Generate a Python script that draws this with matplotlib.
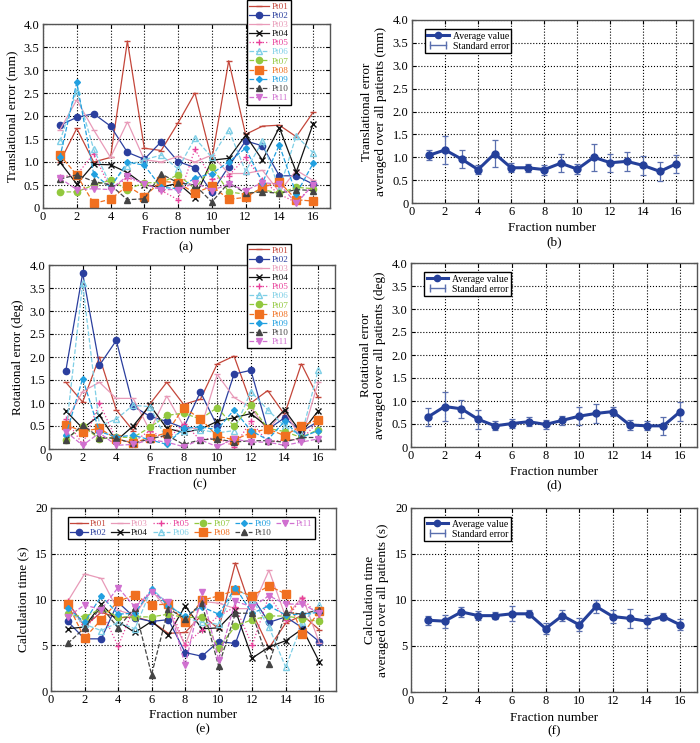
import matplotlib
matplotlib.use("Agg")
import matplotlib.pyplot as plt
from matplotlib.ticker import FuncFormatter, MultipleLocator
from matplotlib.lines import Line2D
from matplotlib.legend_handler import HandlerLine2D

plt.rcParams["font.family"] = ["Liberation Serif", "DejaVu Serif"]

fractions = list(range(1, 17))
patients = ["Pt01", "Pt02", "Pt03", "Pt04", "Pt05", "Pt06", "Pt07", "Pt08", "Pt09", "Pt10", "Pt11"]

# translational error per patient (mm)
trans_err = [
    [1.00, 1.73, 1.00, 1.10, 3.63, 1.30, 1.25, 1.85, 2.50, 1.05, 3.20, 1.60, 1.78, 1.80, 1.55, 2.08],
    [1.80, 1.97, 2.05, 1.78, 1.21, 1.06, 1.44, 1.01, 0.88, 0.34, 0.90, 1.46, 1.35, 0.70, 0.70, 0.52],
    [1.70, 2.35, 1.70, 1.10, 1.87, 1.05, 1.00, 1.12, 1.00, 1.15, 0.75, 0.75, 0.82, 0.35, 0.82, 0.60],
    [1.00, 0.52, 0.95, 0.94, 0.77, 0.50, 0.45, 0.54, 0.22, 1.04, 1.08, 1.58, 1.04, 1.75, 0.78, 1.83],
    [0.68, 0.72, 1.18, 0.42, 0.65, 0.55, 0.38, 0.18, 1.28, 0.62, 0.70, 1.10, 0.60, 0.30, 0.12, 0.50],
    [1.45, 2.55, 1.28, 0.50, 0.92, 1.05, 1.15, 0.85, 1.52, 1.10, 1.70, 0.80, 1.45, 0.40, 1.57, 1.20],
    [0.35, 0.35, 0.50, 0.60, 0.40, 0.55, 0.55, 0.72, 0.42, 0.90, 0.35, 0.30, 0.40, 0.32, 0.45, 0.42],
    [1.15, 0.72, 0.10, 0.19, 0.48, 0.25, 0.58, 0.55, 0.32, 0.48, 0.19, 0.23, 0.45, 0.57, 0.18, 0.15],
    [1.10, 2.73, 0.74, 0.45, 1.00, 0.93, 0.45, 0.42, 0.65, 0.75, 1.00, 1.30, 0.55, 1.37, 0.30, 0.97],
    [0.63, 0.72, 0.58, 0.50, 0.18, 0.20, 0.74, 0.55, 0.50, 0.13, 0.55, 0.32, 0.35, 0.32, 0.40, 0.38],
    [0.65, 0.40, 0.42, 0.40, 0.70, 0.52, 0.40, 0.40, 0.55, 0.38, 0.52, 0.38, 0.55, 0.52, 0.10, 0.50],
]
trans_mean = [1.04, 1.16, 0.96, 0.73, 1.08, 0.77, 0.77, 0.73, 0.87, 0.74, 1.00, 0.88, 0.91, 0.82, 0.69, 0.86]
trans_se = [0.11, 0.30, 0.20, 0.10, 0.30, 0.10, 0.09, 0.11, 0.20, 0.11, 0.30, 0.20, 0.21, 0.20, 0.20, 0.20]

# rotational error per patient (deg)
rot_err = [
    [1.45, 1.02, 2.00, 0.85, 0.40, 0.98, 1.45, 0.97, 1.08, 1.85, 2.02, 1.00, 1.27, 0.75, 1.85, 1.12],
    [1.70, 3.82, 1.82, 2.36, 0.93, 0.71, 0.60, 0.46, 1.24, 0.50, 1.63, 1.71, 0.42, 0.68, 0.38, 0.60],
    [0.60, 1.25, 1.45, 1.10, 1.10, 0.40, 1.15, 0.50, 0.42, 1.62, 1.12, 0.90, 0.40, 0.85, 0.20, 1.45],
    [0.83, 0.45, 0.73, 0.18, 0.50, 0.95, 0.45, 0.36, 0.43, 0.60, 0.68, 0.77, 0.48, 0.85, 0.35, 0.83],
    [0.65, 0.10, 1.00, 0.20, 0.15, 0.40, 0.20, 0.55, 0.20, 0.25, 0.05, 0.60, 0.15, 0.20, 0.20, 0.60],
    [0.35, 3.60, 0.50, 0.65, 0.95, 0.92, 0.20, 0.40, 0.42, 0.35, 0.40, 1.25, 0.85, 0.50, 0.28, 1.72],
    [0.20, 0.50, 0.22, 0.26, 0.25, 0.47, 0.73, 0.78, 0.65, 0.90, 0.49, 0.95, 0.45, 0.38, 0.25, 0.42],
    [0.53, 0.38, 0.45, 0.22, 0.13, 0.25, 0.35, 0.90, 0.66, 0.28, 0.20, 0.35, 0.44, 0.29, 0.50, 0.64],
    [0.30, 1.53, 0.38, 0.26, 0.30, 0.20, 0.10, 0.45, 0.48, 0.42, 0.85, 0.40, 0.20, 0.60, 0.25, 0.40],
    [0.20, 0.52, 0.25, 0.23, 0.12, 0.22, 0.30, 0.10, 0.20, 0.22, 0.15, 0.18, 0.18, 0.15, 0.25, 0.25],
    [0.38, 0.08, 0.35, 0.08, 0.10, 0.20, 0.15, 0.05, 0.20, 0.05, 0.22, 0.15, 0.15, 0.08, 0.15, 0.22],
]
rot_mean = [0.65, 0.88, 0.83, 0.60, 0.46, 0.51, 0.55, 0.49, 0.58, 0.67, 0.73, 0.77, 0.48, 0.46, 0.46, 0.77]
rot_se = [0.20, 0.31, 0.20, 0.20, 0.10, 0.10, 0.10, 0.10, 0.10, 0.20, 0.20, 0.10, 0.10, 0.10, 0.20, 0.20]

# calculation time per patient (s)
calc_time = [
    [9.7, 7.1, 8.6, 8.0, 8.1, 7.6, 6.3, 6.4, 8.3, 6.8, 14.0, 8.6, 4.7, 7.4, 8.3, 6.7],
    [7.6, 5.7, 5.7, 9.7, 8.0, 7.6, 7.8, 4.2, 3.8, 5.4, 5.2, 10.3, 7.5, 8.1, 6.9, 5.4],
    [9.8, 12.8, 12.3, 8.8, 8.3, 11.0, 8.8, 5.0, 9.8, 9.6, 9.0, 9.0, 13.2, 8.1, 10.3, 5.3],
    [6.8, 7.0, 9.5, 7.6, 6.4, 7.6, 6.1, 9.3, 6.8, 6.9, 8.8, 3.6, 4.8, 5.5, 6.8, 3.2],
    [9.8, 6.8, 8.8, 4.9, 9.3, 10.9, 9.6, 5.0, 6.7, 8.2, 9.2, 5.0, 10.4, 7.8, 10.2, 8.0],
    [8.8, 7.3, 6.6, 7.5, 6.8, 11.2, 9.5, 8.0, 7.5, 7.3, 11.3, 10.0, 7.0, 2.6, 7.5, 9.4],
    [8.4, 8.1, 9.0, 8.1, 8.1, 8.1, 8.4, 8.0, 8.1, 4.7, 7.1, 7.8, 8.2, 8.2, 7.9, 7.6],
    [9.5, 5.8, 7.8, 9.8, 10.5, 9.4, 9.5, 7.5, 9.9, 10.4, 11.0, 10.4, 11.5, 10.6, 6.2, 8.7],
    [9.1, 7.5, 10.4, 8.4, 8.5, 11.1, 9.3, 8.2, 9.2, 8.4, 11.3, 8.5, 9.3, 8.3, 8.4, 8.6],
    [5.2, 6.9, 9.2, 6.9, 9.1, 1.8, 9.0, 7.9, 9.6, 2.7, 8.5, 8.5, 3.0, 8.6, 8.4, 8.9],
    [8.1, 9.4, 8.9, 11.3, 9.2, 10.8, 9.7, 2.8, 10.8, 3.4, 9.8, 9.2, 10.4, 9.5, 9.5, 8.5],
]
time_mean = [7.8, 7.7, 8.7, 8.3, 8.3, 8.5, 8.5, 6.9, 8.3, 7.3, 9.3, 8.2, 8.0, 7.7, 8.2, 7.3]
time_se = [0.5, 0.7, 0.5, 0.5, 0.4, 0.8, 0.4, 0.6, 0.6, 0.7, 0.7, 0.7, 1.0, 0.7, 0.4, 0.6]

# per-patient line styles
colors = ["#c4463a", "#2b3f9e", "#e89ab8", "#111111", "#e8409a", "#7fcfe6",
          "#92c83e", "#f07020", "#22a0e0", "#444444", "#d070d0"]
lstyles = ["-", "-", "-", "-", ":", "--", "--", "--", "--", "--", "--"]
markers = ["_", "o", "_", "x", "+", "^", "o", "s", "D", "^", "v"]
msizes = [5, 4.5, 5, 5, 5, 4, 4.5, 5.5, 3, 4, 4]

W, H = 700, 743
fig = plt.figure(figsize=(W / 100, H / 100), dpi=100)


def box(left, top, right, bottom):
    return [left / W, 1 - bottom / H, (right - left) / W, (bottom - top) / H]


def style_axes(ax, ymax, ystep, fmt1, xlab_off):
    ax.set_xlim(0, 17)
    ax.set_ylim(0, ymax)
    ax.xaxis.set_major_locator(MultipleLocator(2))
    ax.yaxis.set_major_locator(MultipleLocator(ystep))
    if fmt1:
        ax.yaxis.set_major_formatter(FuncFormatter(lambda v, p: "0" if v == 0 else f"{v:.1f}"))
    else:
        ax.yaxis.set_major_formatter(FuncFormatter(lambda v, p: f"{v:.0f}"))
    ax.grid(True, color="black", linestyle=":", linewidth=0.8)
    ax.tick_params(direction="in", top=True, right=True, labelsize=9, length=3, pad=2.5)
    for s in ax.spines.values():
        s.set_color("#555555")
        s.set_linewidth(1.0)
    ax.set_xlabel("Fraction number", fontsize=9.5)
    h = ax.get_position().height * H
    ax.xaxis.set_label_coords(0.5, -xlab_off / h)
    ax.xaxis.label.set_va("center")


def patient_panel(ax, data):
    for i, row in enumerate(data):
        mfc = "none" if i == 5 else colors[i]
        ax.plot(fractions, row, color=colors[i], linestyle=lstyles[i], marker=markers[i],
                markersize=msizes[i], markerfacecolor=mfc, markeredgewidth=1.0,
                linewidth=0.9, label=patients[i])


def mean_panel(ax, mean, se):
    ax.errorbar(fractions, mean, yerr=se, fmt="none", ecolor="#5a6fae", elinewidth=0.9,
                capsize=2.5, capthick=0.9, zorder=3)
    ax.plot(fractions, mean, color="#25409a", linewidth=2.2, marker="o", markersize=5, zorder=4)
    h1 = Line2D([0], [0], color="#25409a", linewidth=2.2, marker="o", markersize=4.5)
    h2 = Line2D([0], [0], color="#5a6fae", linewidth=1.0, marker="|", markersize=6)
    ax.legend([h1, h2], ["Average value", "Standard error"], loc="upper left",
              bbox_to_anchor=(0.046, 0.95), borderaxespad=0, fontsize=7, frameon=True,
              fancybox=False, edgecolor="black", framealpha=1, handlelength=2.2,
              borderpad=0.25, labelspacing=0.1, handletextpad=0.4,
              handler_map={h2: HandlerLine2D(numpoints=2)})


def patient_legend(ax, anchor, ncol):
    leg = ax.legend(loc="upper left", bbox_to_anchor=anchor, bbox_transform=fig.transFigure,
                    borderaxespad=0, ncol=ncol, fontsize=6.6, frameon=True, fancybox=False,
                    edgecolor="black", framealpha=1, handlelength=2.2 if ncol == 1 else 1.9,
                    borderpad=0.25, labelspacing=0.08, columnspacing=0.5, handletextpad=0.25)
    for t, c in zip(leg.get_texts(), colors):
        t.set_color(c)
    leg.set_zorder(10)
    return leg


# (a)
ax_a = fig.add_axes(box(43, 24, 330, 208))
patient_panel(ax_a, trans_err)
style_axes(ax_a, 4.0, 0.5, True, 23)
ax_a.set_ylabel("Translational error (mm)", fontsize=9.5)
patient_legend(ax_a, (247 / W, 1 - 0 / H), 1)

# (b)
ax_b = fig.add_axes(box(412, 20, 693, 203))
mean_panel(ax_b, trans_mean, trans_se)
style_axes(ax_b, 4.0, 0.5, True, 25)
ax_b.set_ylabel("Translational error\naveraged over all patients (mm)", fontsize=9.5)

# (c)
ax_c = fig.add_axes(box(49, 265, 335, 449))
patient_panel(ax_c, rot_err)
style_axes(ax_c, 4.0, 0.5, True, 22)
ax_c.set_ylabel("Rotational error (deg)", fontsize=9.5)
patient_legend(ax_c, (247 / W, 1 - 244 / H), 1)

# (d)
ax_d = fig.add_axes(box(411, 263, 697, 447))
mean_panel(ax_d, rot_mean, rot_se)
style_axes(ax_d, 4.0, 0.5, True, 25)
ax_d.set_ylabel("Rotational error\naveraged over all patients (deg)", fontsize=9.5)

# (e)
ax_e = fig.add_axes(box(51, 508, 336, 691))
patient_panel(ax_e, calc_time)
style_axes(ax_e, 20, 5, False, 24)
ax_e.set_ylabel("Calculation time (s)", fontsize=9.5)
patient_legend(ax_e, (68 / W, 1 - 517 / H), 6)

# (f)
ax_f = fig.add_axes(box(411, 508, 697, 692))
mean_panel(ax_f, time_mean, time_se)
style_axes(ax_f, 20, 5, False, 26)
ax_f.set_ylabel("Calculation time\naveraged over all patients (s)", fontsize=9.5)

# panel letters
for lbl, x, y in [("(a)", 186, 247), ("(b)", 554, 242), ("(c)", 200, 484),
                  ("(d)", 554, 485), ("(e)", 203, 729), ("(f)", 554, 731)]:
    fig.text(x / W, 1 - y / H, lbl, ha="center", va="center", fontsize=9.5)

fig.savefig("out.png", dpi=100)
